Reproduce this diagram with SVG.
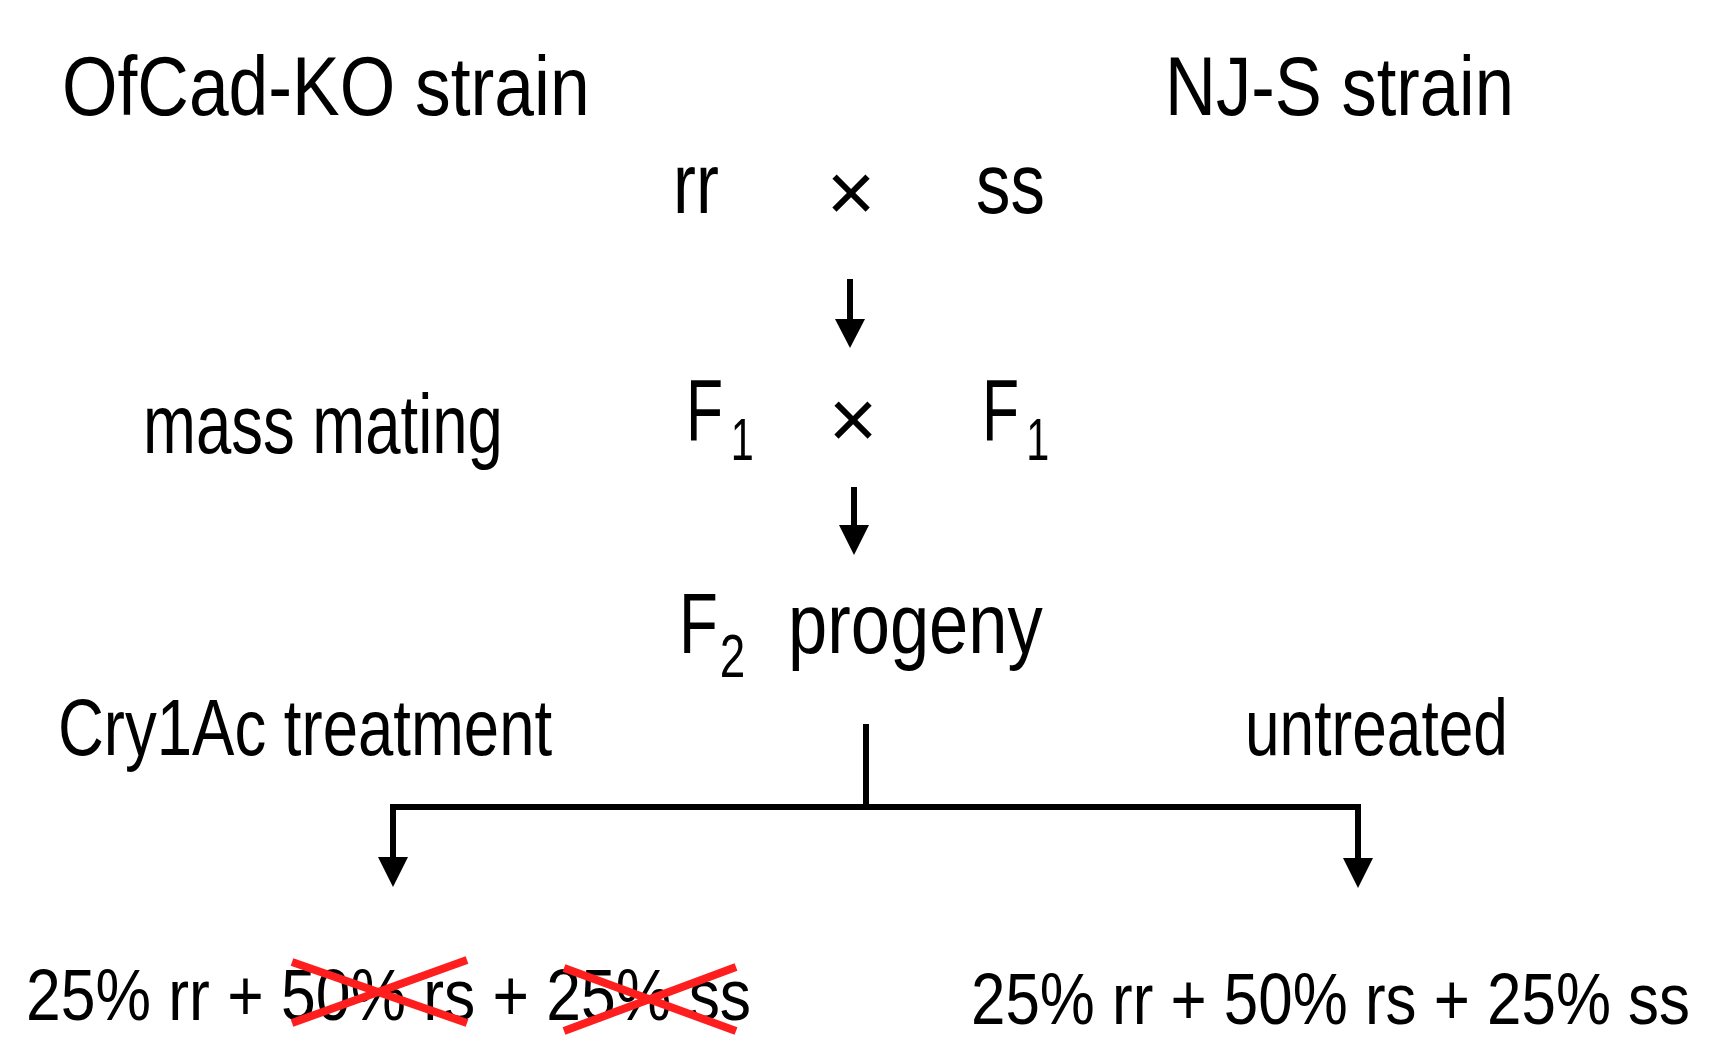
<svg xmlns="http://www.w3.org/2000/svg" width="1722" height="1063" viewBox="0 0 1722 1063">
<style>
text{font-family:"Liberation Sans",Arial,sans-serif;fill:#000;}
.ln{stroke:#000;stroke-width:6;fill:none;}
.x{stroke:#ff1e1e;stroke-width:8;stroke-linecap:butt;}
.ah{fill:#000;}
</style>
<rect width="1722" height="1063" fill="#fff"/>
<g id="n-ofcad"><text transform="translate(62,115) scale(0.85,1)" font-size="84">OfCad-KO strain</text></g>
<g id="n-njs"><text transform="translate(1165,115) scale(0.84,1)" font-size="84">NJ-S strain</text></g>
<g id="n-rr"><text transform="translate(673,213) scale(0.8,1)" font-size="86">rr</text></g>
<g id="n-cross1"><text x="851" y="221" font-size="84" text-anchor="middle">×</text></g>
<g id="n-ss"><text transform="translate(976,213) scale(0.8,1)" font-size="86">ss</text></g>
<g id="n-mass"><text transform="translate(143,453) scale(0.756,1)" font-size="84">mass mating</text></g>
<g id="n-f1a"><text transform="translate(686,440) scale(0.69,1)" font-size="88">F<tspan x="65" y="20" font-size="60">1</tspan></text></g>
<g id="n-cross2"><text x="853" y="448" font-size="84" text-anchor="middle">×</text></g>
<g id="n-f1b"><text transform="translate(982,440) scale(0.69,1)" font-size="88">F<tspan x="64" y="20" font-size="60">1</tspan></text></g>
<g id="n-f2"><text transform="translate(679,653) scale(0.74,1)" font-size="86">F<tspan x="55" y="24" font-size="62">2</tspan></text><text transform="translate(788,653) scale(0.82,1)" font-size="86">progeny</text></g>
<g id="n-cry"><text transform="translate(58,755) scale(0.794,1)" font-size="80">Cry1Ac treatment</text></g>
<g id="n-untreated"><text transform="translate(1245,755) scale(0.778,1)" font-size="80">untreated</text></g>
<g id="n-left"><text transform="translate(26,1020) scale(0.867,1)" font-size="72">25% rr + 50% rs + 25% ss</text>
<line class="x" x1="292" y1="962" x2="467" y2="1023"/><line class="x" x1="292" y1="1023" x2="467" y2="960"/>
<line class="x" x1="564" y1="968" x2="736" y2="1031"/><line class="x" x1="564" y1="1031" x2="736" y2="967"/></g>
<g id="n-right"><text transform="translate(971,1024) scale(0.86,1)" font-size="72">25% rr + 50% rs + 25% ss</text></g>
<g id="connectors">
<line class="ln" x1="850" y1="279" x2="850" y2="322"/>
<path class="ah" d="M835,319 L865,319 L850,348 Z"/>
<line class="ln" x1="854" y1="487" x2="854" y2="528"/>
<path class="ah" d="M839,525 L869,525 L854,555 Z"/>
<line class="ln" x1="866" y1="724" x2="866" y2="807"/>
<path class="ln" d="M393,860 V807 H1358 V860" stroke-linejoin="miter"/>
<path class="ah" d="M378,857 L408,857 L393,887 Z M1343,858 L1373,858 L1358,888 Z"/>
</g>
</svg>
